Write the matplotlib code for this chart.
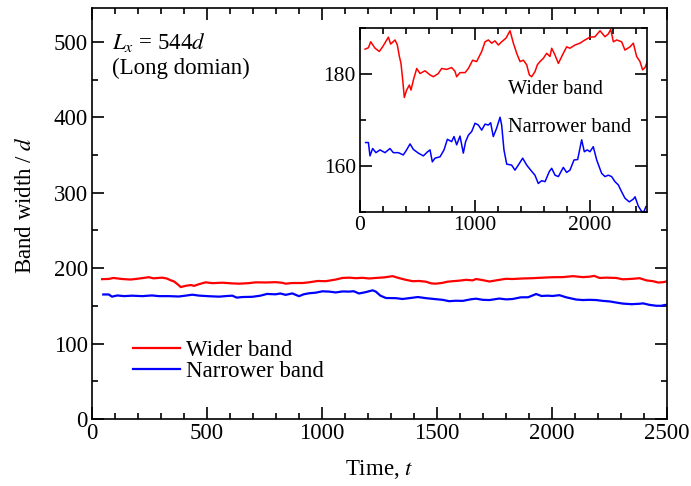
import matplotlib
matplotlib.use("Agg")
import matplotlib.pyplot as plt
from matplotlib.ticker import MultipleLocator

t_wide = [44, 73, 93, 131, 168, 197, 247, 267, 305, 325, 343, 357, 372, 386, 406, 430, 444,
          465, 494, 523, 566, 610, 639, 682, 711, 755, 798, 827, 842, 871, 915, 944, 981,
          1016, 1060, 1089, 1118, 1147, 1176, 1205, 1234, 1272, 1307, 1336, 1365, 1394, 1423,
          1452, 1475, 1495, 1524, 1545, 1568, 1597, 1626, 1655, 1670, 1699, 1728, 1771, 1800,
          1829, 1873, 1916, 1960, 2003, 2047, 2091, 2134, 2163, 2184, 2207, 2236, 2279, 2308,
          2352, 2381, 2410, 2439, 2462, 2483, 2500]
w_wide = [185.4, 185.7, 187.0, 185.6, 184.9, 185.9, 188.0, 186.5, 187.4, 186.3, 183.8, 182.3,
          178.7, 174.9, 176.5, 177.6, 176.5, 178.7, 181.2, 180.1, 180.7, 179.8, 179.4, 180.1,
          181.2, 181.0, 181.4, 180.6, 179.4, 180.3, 180.3, 181.2, 183.0, 182.7, 184.9, 187.0,
          187.4, 186.7, 187.2, 186.3, 187.0, 187.8, 189.4, 186.7, 184.5, 182.7, 183.0, 182.0,
          179.8, 179.4, 180.5, 182.0, 182.7, 183.4, 184.5, 183.8, 185.6, 184.1, 182.3, 184.5,
          185.9, 185.6, 186.3, 186.7, 187.4, 188.0, 188.1, 189.4, 188.1, 188.7, 189.7, 187.0,
          187.4, 187.0, 185.2, 185.9, 186.7, 183.8, 182.7, 180.9, 181.4, 182.5]

t_narrow = [49, 73, 87, 110, 139, 174, 218, 261, 290, 334, 377, 406, 436, 465, 508, 552, 589,
            610, 630, 653, 697, 732, 761, 798, 819, 842, 871, 900, 920, 944, 973, 1002, 1031,
            1060, 1089, 1118, 1138, 1161, 1190, 1220, 1234, 1254, 1278, 1321, 1350, 1379, 1417,
            1452, 1487, 1524, 1553, 1582, 1612, 1649, 1670, 1699, 1728, 1771, 1800, 1829, 1864,
            1896, 1931, 1954, 1980, 2003, 2032, 2062, 2105, 2134, 2163, 2192, 2221, 2250, 2279,
            2308, 2346, 2381, 2396, 2424, 2454, 2474, 2491, 2500]
w_narrow = [165.1, 165.1, 162.2, 163.8, 162.9, 163.5, 162.9, 163.8, 162.9, 162.9, 162.4, 163.5,
            164.8, 163.6, 162.8, 162.2, 163.1, 163.5, 160.9, 161.7, 162.0, 163.5, 165.8, 165.3,
            166.4, 164.6, 166.5, 162.8, 165.3, 166.7, 167.5, 169.3, 168.9, 167.8, 169.1, 168.9,
            169.4, 166.4, 168.2, 170.6, 168.9, 163.5, 160.4, 160.2, 159.1, 160.2, 161.7, 160.2,
            159.1, 158.0, 156.2, 156.8, 156.6, 158.8, 159.5, 158.0, 157.7, 159.7, 158.6, 159.1,
            161.3, 161.4, 165.7, 163.1, 163.5, 163.1, 164.2, 161.3, 158.4, 157.7, 158.0, 157.7,
            156.6, 155.9, 154.4, 153.0, 152.2, 152.8, 153.3, 151.3, 150.1, 150.1, 151.2, 151.2]

plt.rcParams.update({'font.family': 'Liberation Serif', 'font.size': 16.5,
                     'mathtext.fontset': 'stix', 'axes.linewidth': 1.2})

fig = plt.figure(figsize=(6.91, 4.86), dpi=100)
ax = fig.add_axes([0.1331, 0.1379, 0.8322, 0.8457])

ax.plot(t_wide, w_wide, color='#ff0000', linewidth=1.6, label='Wider band')
ax.plot(t_narrow, w_narrow, color='#0000ff', linewidth=1.6, label='Narrower band')

ax.set_xlim(0, 2500)
ax.set_ylim(0, 545)
ax.xaxis.set_major_locator(MultipleLocator(500))
ax.xaxis.set_minor_locator(MultipleLocator(100))
ax.yaxis.set_major_locator(MultipleLocator(100))
ax.yaxis.set_minor_locator(MultipleLocator(50))
ax.tick_params(which='both', direction='in', top=True, right=True, width=1.2)
ax.tick_params(which='major', length=8.5, pad=3)
ax.tick_params(which='minor', length=4.5)

ax.set_xlabel('Time, $t$')
ax.set_ylabel('Band width / $d$')
ax.xaxis.set_label_coords(0.5, -0.095)
ax.yaxis.set_label_coords(-0.098, 0.52)

ax.text(0.035, 0.917, '$L_x$ = 544$d$', transform=ax.transAxes, ha='left', va='center')
ax.text(0.035, 0.854, '(Long domian)', transform=ax.transAxes, ha='left', va='center')

ax.legend(loc='center left', bbox_to_anchor=(0.071, 0.142), frameon=False,
          handlelength=2.05, handletextpad=0.26, labelspacing=0.0,
          borderpad=0, borderaxespad=0)

# inset
ins = fig.add_axes([0.521, 0.5638, 0.4153, 0.3786])
ins.plot(t_wide, w_wide, color='#ff0000', linewidth=1.1)
ins.plot(t_narrow, w_narrow, color='#0000ff', linewidth=1.1)
ins.set_xlim(0, 2500)
ins.set_ylim(150, 190)
ins.xaxis.set_major_locator(MultipleLocator(1000))
ins.xaxis.set_minor_locator(MultipleLocator(200))
ins.yaxis.set_major_locator(MultipleLocator(20))
ins.yaxis.set_minor_locator(MultipleLocator(10))
ins.tick_params(which='both', direction='in', top=True, right=True, width=1.2,
                labelsize=15.5)
ins.tick_params(which='major', length=8.5, pad=3)
ins.tick_params(which='minor', length=4.5)
ins.text(1290, 176.7, 'Wider band', ha='left', va='center', fontsize=14.7)
ins.text(1290, 168.3, 'Narrower band', ha='left', va='center', fontsize=14.7)

fig.savefig('out.png', dpi=100)
